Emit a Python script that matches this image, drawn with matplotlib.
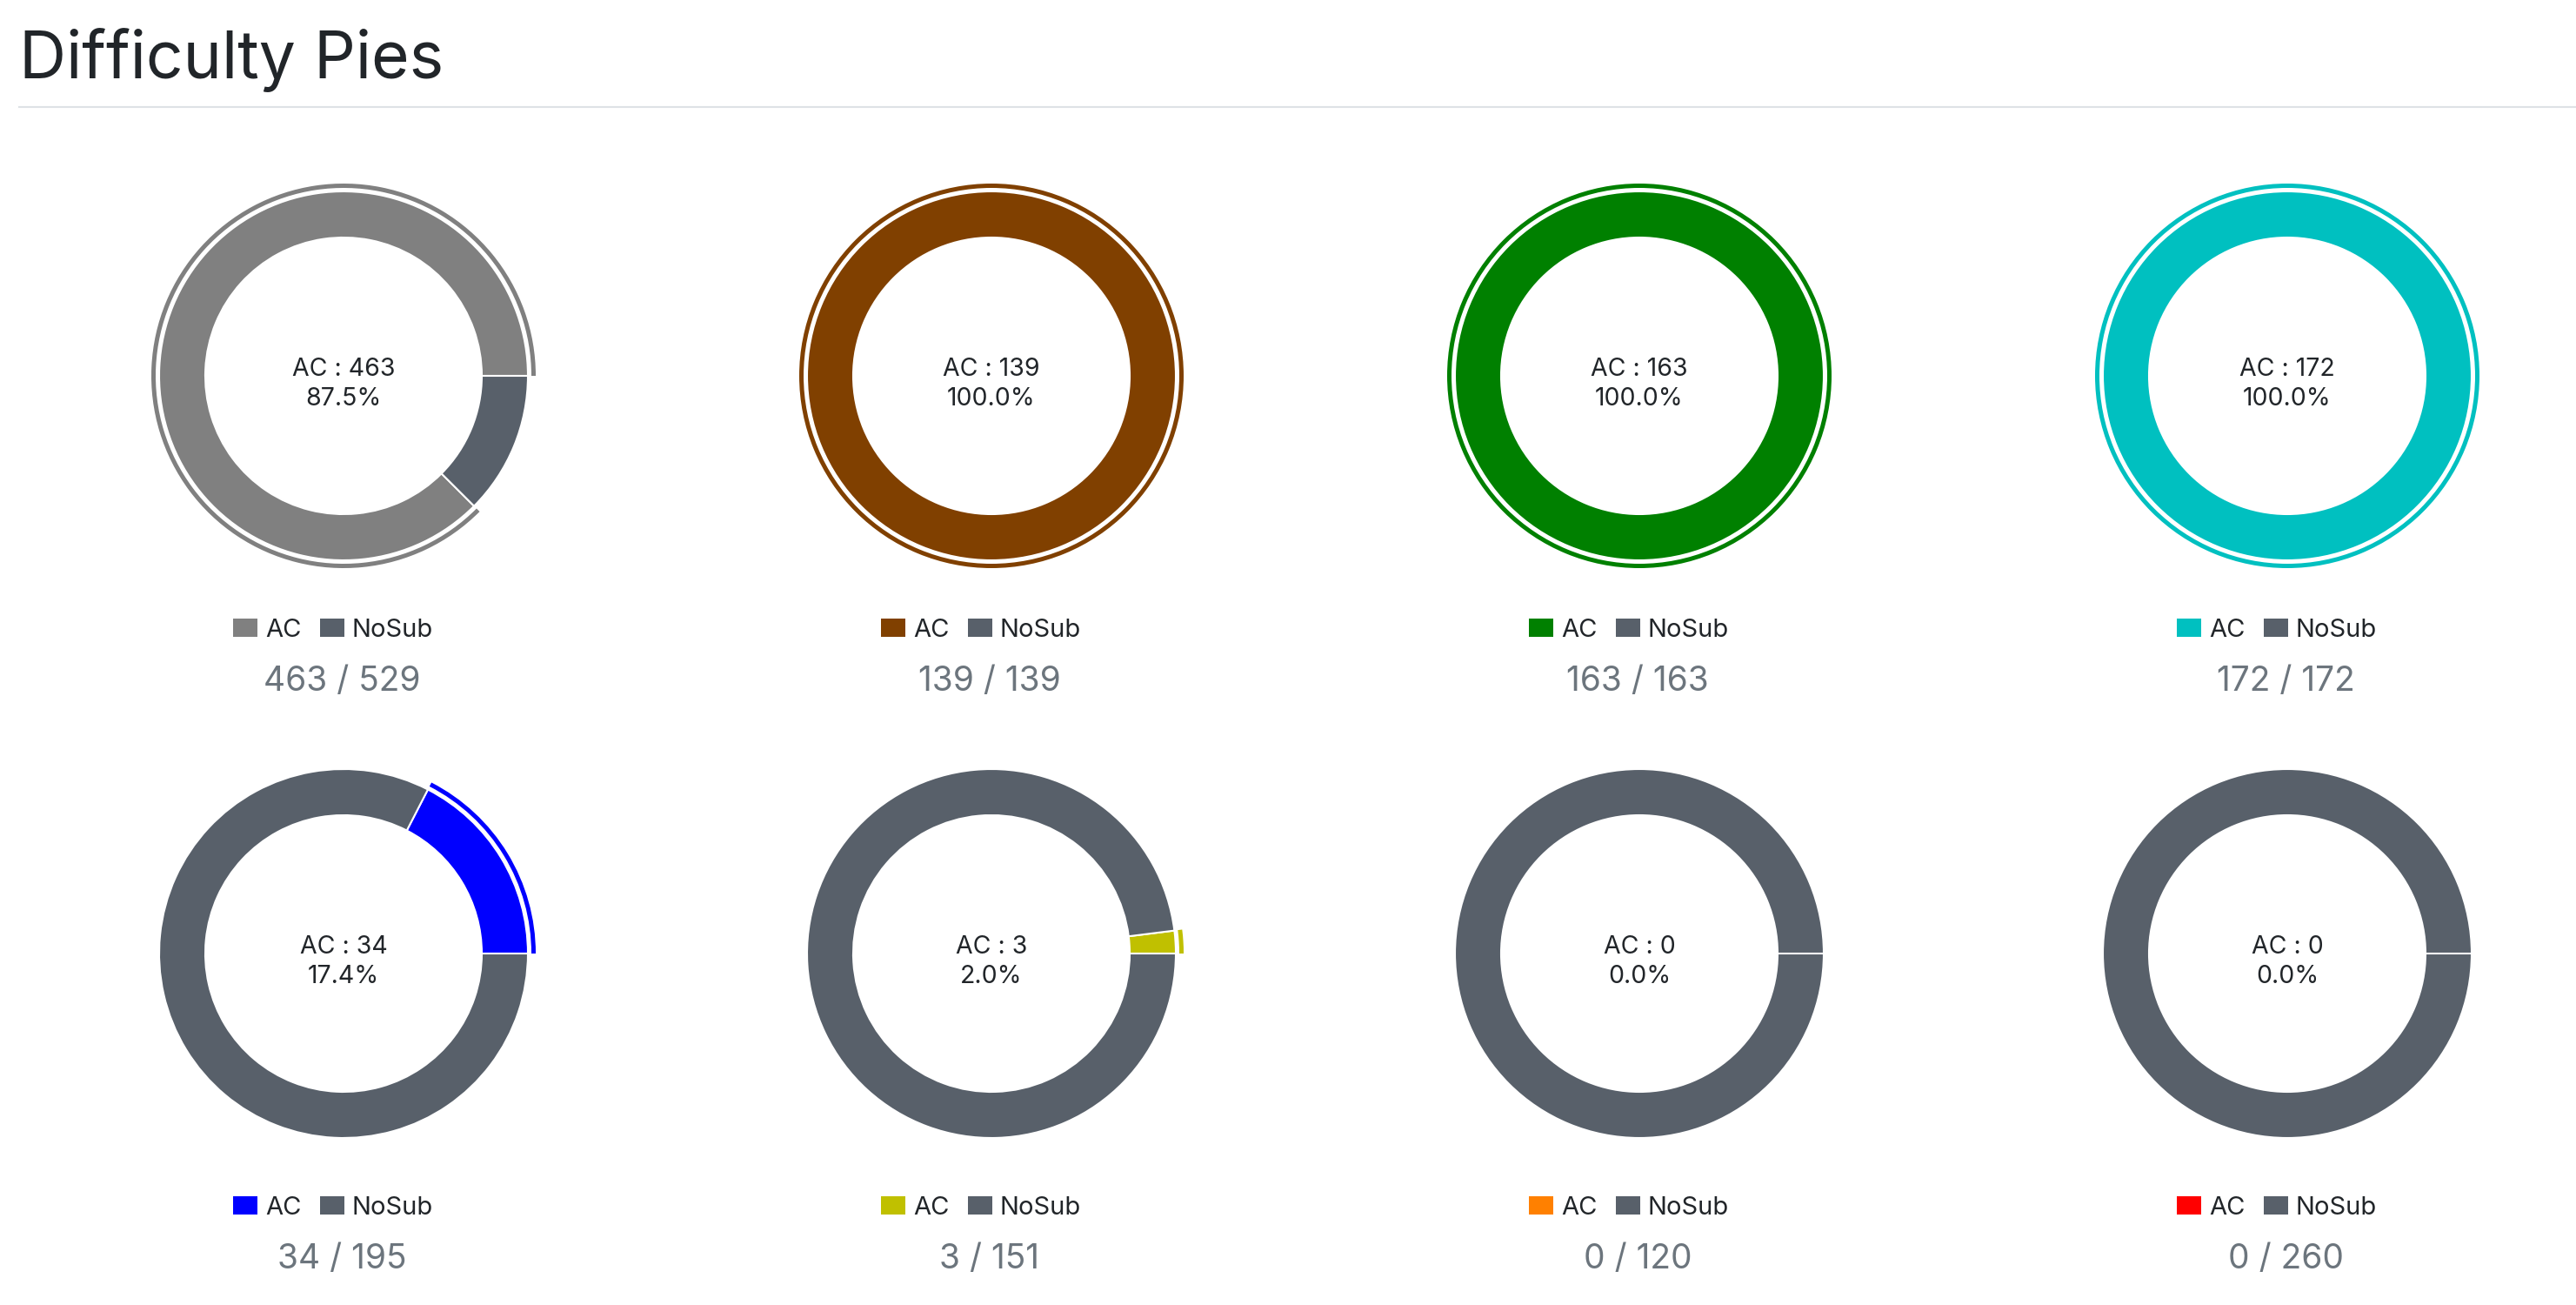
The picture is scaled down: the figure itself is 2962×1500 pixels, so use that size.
import matplotlib
matplotlib.use("Agg")
import matplotlib.pyplot as plt
from matplotlib.patches import Patch
from matplotlib.lines import Line2D

plt.rcParams['font.family'] = ['Inter', 'DejaVu Sans']

# ---- data ----
ac_counts = [463, 139, 163, 172, 34, 3, 0, 0]
totals = [529, 139, 163, 172, 195, 151, 120, 260]
ac_colors = ['#808080', '#804000', '#008000', '#00C0C0',
             '#0000FF', '#C0C000', '#FF8000', '#FF0000']
nosub_color = '#58606a'
series_labels = ['AC', 'NoSub']
title = 'Difficulty Pies'

W, H = 2962, 1500
DPI = 100
fig = plt.figure(figsize=(W / DPI, H / DPI), dpi=DPI)
fig.patch.set_facecolor('white')


def fx(x):
    return x / W


def fy(y):
    return 1 - y / H


# title + rule
fig.text(fx(22), fy(90), title, fontsize=54, color='#212529', va='baseline', ha='left')
fig.add_artist(Line2D([fx(22), 1.0], [fy(123), fy(123)], color='#dee2e6', lw=1.5,
                      transform=fig.transFigure))

col_x = [395, 1140, 1885, 2630]
row_y = [432, 1096]
half = 250

for i, (ac, tot, col) in enumerate(zip(ac_counts, totals, ac_colors)):
    nosub = tot - ac
    cx = col_x[i % 4]
    cy = row_y[i // 4]
    ax = fig.add_axes([fx(cx - half), fy(cy + half), 2 * half / W, 2 * half / H])
    wedges, _ = ax.pie([ac, nosub], colors=[col, nosub_color], startangle=0,
                       counterclock=True, radius=212,
                       wedgeprops=dict(width=53, edgecolor='white', linewidth=1.5))
    if nosub == 0:
        wedges[1].set_visible(False)
    if ac == 0:
        wedges[0].set_zorder(5)
    if ac > 0:
        ring, _ = ax.pie([ac, nosub], colors=[col, (0, 0, 0, 0)], startangle=0,
                         counterclock=True, radius=221,
                         wedgeprops=dict(width=5, linewidth=0))
        if nosub == 0:
            ring[1].set_visible(False)
    ax.set_xlim(-half, half)
    ax.set_ylim(-half, half)
    ax.axis('off')
    pct = 100.0 * ac / tot
    ax.text(0, 0, f'AC : {ac}', ha='center', va='baseline', fontsize=20.5, color='#212529')
    ax.text(0, -34, f'{pct:.1f}%', ha='center', va='baseline', fontsize=20.5, color='#212529')

    handles = [Patch(facecolor=col, edgecolor='none'),
               Patch(facecolor=nosub_color, edgecolor='none')]
    fig.legend(handles, series_labels, loc='center',
               bbox_to_anchor=(fx(cx - 12), fy(cy + 292)),
               bbox_transform=fig.transFigure, ncol=2, frameon=False,
               fontsize=21, handlelength=0.96, handleheight=0.72,
               handletextpad=0.32, columnspacing=0.72, borderpad=0,
               labelcolor='#212529')
    fig.text(fx(cx - 2), fy(cy + 362), f'{ac} / {tot}', ha='center', va='baseline',
             fontsize=28, color='#6c757d')

fig.savefig('out.png', dpi=DPI, facecolor='white')
